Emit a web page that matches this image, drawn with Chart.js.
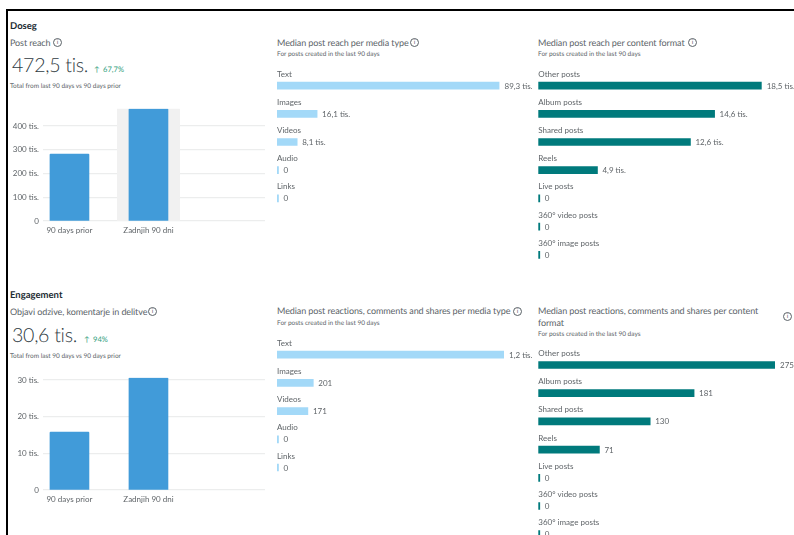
<!DOCTYPE html>
<html><head><meta charset="utf-8">
<script src="https://cdn.jsdelivr.net/npm/chart.js@4"></script>
<style>
html,body{margin:0;padding:0;background:#fff;width:794px;height:535px;overflow:hidden}
body{position:relative;font-family:Lato,sans-serif;color:#5f6468;text-rendering:geometricPrecision}
.t{position:absolute;white-space:nowrap;line-height:1}
.h{font-size:9.5px;font-weight:700;color:#1c2b33}
.ti{font-size:9px;color:#5b6368;letter-spacing:-.09px}
.sub{font-size:6.5px;color:#5b6368}
.big{font-size:19.6px;font-weight:300;color:#2f3b42;letter-spacing:-.3px}
.up{font-size:7.6px;color:#2f9e7c}
.ic{position:absolute;width:7px;height:7px;border:1px solid #5b6368;border-radius:50%;font-size:6.5px;line-height:7px;text-align:center;color:#5b6368}
canvas{position:absolute}
#frame{position:absolute;left:6px;top:9px;width:800px;height:540px;border-top:2px solid #000;border-left:2px solid #000}
</style></head><body>
<div id="frame"></div>
<div class="t h" style="left:10px;top:22px">Doseg</div>
<div class="t ti" style="left:10px;top:38px">Post reach</div><span class="ic" style="left:53px;top:38px">i</span>
<div class="t big" style="left:12px;top:56px">472,5 tis.</div>
<div class="t up" style="left:94px;top:66px">↑</div><div class="t up" style="left:103px;top:66px">67,7%</div>
<div class="t sub" style="left:10px;top:84px">Total from last 90 days vs 90 days prior</div>
<div class="t ti" style="left:277px;top:38px">Median post reach per media type</div><span class="ic" style="left:410px;top:38px">i</span>
<div class="t sub" style="left:277px;top:52px">For posts created in the last 90 days</div>
<div class="t ti" style="left:538px;top:38px">Median post reach per content format</div><span class="ic" style="left:688px;top:38px">i</span>
<div class="t sub" style="left:538px;top:52px">For posts created in the last 90 days</div>

<div class="t h" style="left:10px;top:291px">Engagement</div>
<div class="t ti" style="left:10px;top:307px">Objavi odzive, komentarje in delitve</div><span class="ic" style="left:148px;top:307px">i</span>
<div class="t big" style="left:12px;top:326px">30,6 tis.</div>
<div class="t up" style="left:84px;top:336px">↑</div><div class="t up" style="left:93px;top:336px">94%</div>
<div class="t sub" style="left:10px;top:354px">Total from last 90 days vs 90 days prior</div>
<div class="t ti" style="left:277px;top:306px">Median post reactions, comments and shares per media type</div><span class="ic" style="left:513px;top:307px">i</span>
<div class="t sub" style="left:277px;top:321px">For posts created in the last 90 days</div>
<div class="t ti" style="left:538px;top:306px">Median post reactions, comments and shares per content</div>
<div class="t ti" style="left:538px;top:318px">format</div><span class="ic" style="left:783px;top:312px">i</span>
<div class="t sub" style="left:538px;top:332px">For posts created in the last 90 days</div>

<canvas id="c1" style="left:8px;top:100px" width="257" height="140"></canvas>
<canvas id="c2" style="left:270px;top:65px" width="262" height="148"></canvas>
<canvas id="c3" style="left:530px;top:65px" width="264" height="204"></canvas>
<canvas id="c4" style="left:8px;top:369px" width="257" height="140"></canvas>
<canvas id="c5" style="left:270px;top:334px" width="262" height="148"></canvas>
<canvas id="c6" style="left:530px;top:345px" width="264" height="204"></canvas>
<script>
const periods = ["90 days prior", "Zadnjih 90 dni"];
const reachTotals = [281.8, 472.5];
const engagementTotals = [15.8, 30.6];
const mediaTypes = ["Text", "Images", "Videos", "Audio", "Links"];
const contentFormats = ["Other posts", "Album posts", "Shared posts", "Reels", "Live posts", "360° video posts", "360° image posts"];
const reachByMedia = [89.3, 16.1, 8.1, 0, 0];
const reachByMediaLabels = ["89,3 tis.", "16,1 tis.", "8,1 tis.", "0", "0"];
const reachByFormat = [18.5, 14.6, 12.6, 4.9, 0, 0, 0];
const reachByFormatLabels = ["18,5 tis.", "14,6 tis.", "12,6 tis.", "4,9 tis.", "0", "0", "0"];
const engByMedia = [1257, 201, 171, 0, 0];
const engByMediaLabels = ["1,2 tis.", "201", "171", "0", "0"];
const engByFormat = [275, 181, 130, 71, 0, 0, 0];
const engByFormatLabels = ["275", "181", "130", "71", "0", "0", "0"];

const FONT = 'Lato, sans-serif';
const GREY = "#5f6468";

const bandPlugin = {
  id: "band",
  beforeDatasetsDraw(chart) {
    const { ctx, chartArea: a, scales: { x } } = chart;
    const cx = x.getPixelForValue(1);
    ctx.save();
    ctx.fillStyle = "#f1f1f1";
    ctx.fillRect(cx - 31.5, a.top, 63, a.bottom - a.top);
    ctx.restore();
  }
};

function columns(id, values, yMax, step, top, highlight) {
  new Chart(document.getElementById(id), {
    type: "bar",
    data: { datasets: [{ data: periods.map((_, i) => ({ x: i, y: values[i] })), backgroundColor: "#419bd9", barThickness: 39, borderRadius: 1 }] },
    plugins: highlight ? [bandPlugin] : [],
    options: {
      responsive: false, animation: false,
      layout: { padding: { top: top, left: 0, right: 0, bottom: 0 } },
      plugins: { legend: { display: false }, tooltip: { enabled: false } },
      scales: {
        x: {
          type: "linear", min: -0.335, max: 2.475, offset: false,
          grid: { display: false, drawTicks: false }, border: { display: false },
          afterFit(s) { s.height = 19; },
          ticks: { stepSize: 1, includeBounds: false, maxRotation: 0, autoSkip: false, padding: 5, color: GREY, font: { family: FONT, size: 8 },
            callback: v => periods[v] ?? "" }
        },
        y: {
          min: 0, max: yMax,
          grid: { color: "#eceded", lineWidth: 1.3, drawTicks: false }, border: { display: false },
          afterFit(s) { s.width = 35; },
          ticks: { stepSize: step, includeBounds: false, padding: 4, color: GREY, font: { family: FONT, size: 8 },
            callback: v => v === 0 ? "0" : v + " tis." }
        }
      }
    }
  });
}

const rowLabelPlugin = {
  id: "rowLabels",
  afterDatasetsDraw(chart, _a, opts) {
    const { ctx, chartArea: a } = chart;
    const meta = chart.getDatasetMeta(0);
    ctx.save();
    ctx.fillStyle = GREY;
    ctx.font = "8px " + FONT;
    ctx.textBaseline = "middle";
    meta.data.forEach((el, i) => {
      ctx.textAlign = "left";
      ctx.fillText(chart.data.labels[i], a.left, el.y - 11.5);
      ctx.fillText(opts.valueLabels[i], el.x + 5, el.y + 0.5);
    });
    ctx.restore();
  }
};

function rows(id, cats, values, labels, color, left, right, top, bottom) {
  new Chart(document.getElementById(id), {
    type: "bar",
    data: { labels: cats, datasets: [{ data: values, backgroundColor: color, barThickness: 7, minBarLength: 1.5, categoryPercentage: 1, barPercentage: 1 }] },
    plugins: [rowLabelPlugin],
    options: {
      indexAxis: "y", responsive: false, animation: false,
      layout: { padding: { top: top, left: left, right: right, bottom: bottom } },
      plugins: { legend: { display: false }, tooltip: { enabled: false }, rowLabels: { valueLabels: labels } },
      scales: {
        x: { display: false, min: 0, max: Math.max(...values) },
        y: { display: false }
      }
    }
  });
}

columns("c1", reachTotals, 472.5, 100, 8, true);
columns("c4", engagementTotals, 30.6, 10, 7.8, false);
rows("c2", mediaTypes, reachByMedia, reachByMediaLabels, "#a3d9f8", 7, 32.5, 6.5, 0.5);
rows("c3", contentFormats, reachByFormat, reachByFormatLabels, "#007a7c", 8.3, 32.3, 6.5, 0.1);
rows("c5", mediaTypes, engByMedia, engByMediaLabels, "#a3d9f8", 7, 28, 6.6, 0.4);
rows("c6", contentFormats, engByFormat, engByFormatLabels, "#007a7c", 8.3, 19, 5.9, 0.7);
</script>
</body></html>
